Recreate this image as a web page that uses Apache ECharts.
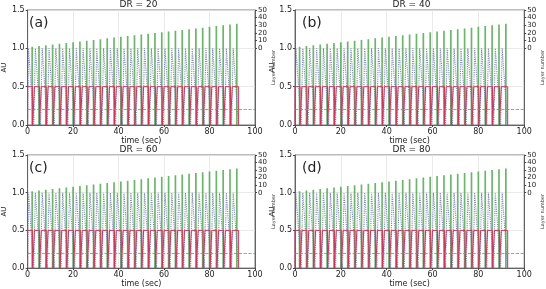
<!DOCTYPE html>
<html>
  <head>
    <meta charset="utf-8" />
    <title>DR pulses</title>
    <script src="https://cdn.jsdelivr.net/npm/echarts@6.0.0/dist/echarts.min.js"></script>
    <style>
      body { margin: 0; background: #fff; }
    </style>
  </head>
  <body>
    <div id="main" style="width: 546px;height:289px;"></div>
    <script type="text/javascript">
    // panel titles / labels
    var drValues = [20, 40, 60, 80];
    var panelLabels = ['(a)', '(b)', '(c)', '(d)'];

    // red pulse (AU 0 -> 0.5)
    var pulseOn = [0, 3, 6, 9, 12, 15, 18, 21, 24, 27, 30, 33, 36, 39, 42, 45, 48, 51, 54, 57, 60, 63, 66, 69, 72, 75, 78, 81, 84, 87, 90];
    var pulseOff = [2.2, 5.2, 8.2, 11.2, 14.2, 17.2, 20.2, 23.2, 26.2, 29.2, 32.2, 35.2, 38.2, 41.2, 44.2, 47.2, 50.2, 53.2, 56.2, 59.2, 62.2, 65.2, 68.2, 71.2, 74.2, 77.2, 80.2, 83.2, 86.2, 89.2, 92.8];
    var pulseHigh = 0.5;

    // blue dotted signal (AU 0 -> 1)
    var blueTopStart = [0.4, 3.4, 6.4, 9.4, 12.4, 15.4, 18.4, 21.4, 24.4, 27.4, 30.4, 33.4, 36.4, 39.4, 42.4, 45.4, 48.4, 51.4, 54.4, 57.4, 60.4, 63.4, 66.4, 69.4, 72.4, 75.4, 78.4, 81.4, 84.4, 87.4, 90.4];
    var blueTopEnd = [1.0, 4.0, 7.0, 10.0, 13.0, 16.0, 19.0, 22.0, 25.0, 28.0, 31.0, 34.0, 37.0, 40.0, 43.0, 46.0, 49.0, 52.0, 55.0, 58.0, 61.0, 64.0, 67.0, 70.0, 73.0, 76.0, 79.0, 82.0, 85.0, 88.0, 91.0];
    var blueBottom = [2.7, 5.7, 8.7, 11.7, 14.7, 17.7, 20.7, 23.7, 26.7, 29.7, 32.7, 35.7, 38.7, 41.7, 44.7, 47.7, 50.7, 53.7, 56.7, 59.7, 62.7, 65.7, 68.7, 71.7, 74.7, 77.7, 80.7, 83.7, 86.7, 89.7, 92.7];
    var blueHigh = 1.0;

    // green layer spikes (right axis)
    var layerTime = [2, 5, 8, 11, 14, 17, 20, 23, 26, 29, 32, 35, 38, 41, 44, 47, 50, 53, 56, 59, 62, 65, 68, 71, 74, 77, 80, 83, 86, 89, 92];
    var layerNumber = [2, 3, 4, 5, 6, 7, 8, 9, 10, 11, 12, 13, 14, 15, 16, 17, 18, 19, 20, 21, 22, 23, 24, 25, 26, 27, 28, 29, 30, 31, 32];
    var layerFloor = -100;

    var thresholdAU = 0.2;
    var layerTicks = [0, 10, 20, 30, 40, 50];

    var font = 'DejaVu Sans';
    var grids = [
      { left: 22, right: 291, top: 10, bottom: 164 },
      { left: 295, right: 18, top: 10, bottom: 164 },
      { left: 22, right: 291, top: 155, bottom: 19 },
      { left: 295, right: 18, top: 155, bottom: 19 }
    ];

    function redData() {
      var d = [];
      for (var i = 0; i < pulseOn.length; i++) {
        d.push([pulseOn[i], 0], [pulseOn[i], pulseHigh], [pulseOff[i], pulseHigh], [pulseOff[i], 0]);
      }
      return d;
    }
    function blueData() {
      var d = [];
      for (var i = 0; i < pulseOn.length; i++) {
        d.push([pulseOn[i], 0], [blueTopStart[i], blueHigh], [blueTopEnd[i], blueHigh], [blueBottom[i], 0]);
      }
      return d;
    }
    function greenData() {
      var d = [];
      for (var i = 0; i < layerTime.length; i++) {
        d.push([layerTime[i], layerFloor], [layerTime[i], layerNumber[i]], [layerTime[i], '-']);
      }
      return d;
    }

    var chart = echarts.init(document.getElementById('main'));
    var option = { animation: false, grid: [], xAxis: [], yAxis: [], series: [], title: [] };

    for (var p = 0; p < 4; p++) {
      var g = grids[p];
      option.grid.push({ left: g.left, right: g.right, top: g.top, bottom: g.bottom,
        show: true, borderColor: '#555', borderWidth: 0.8 });
      var cx = g.left + (546 - g.left - g.right) / 2;
      option.title.push({ text: 'DR = ' + drValues[p], left: cx, top: g.top - 10, textAlign: 'center', padding: 0,
        textStyle: { fontFamily: font, fontSize: 9, fontWeight: 'normal', color: '#222' } });
      option.title.push({ text: panelLabels[p], left: g.left + 7, top: g.top + 6, padding: 0,
        textStyle: { fontFamily: font, fontSize: 14, fontWeight: 'normal', color: '#222' } });

      option.xAxis.push({ type: 'value', gridIndex: p, min: 0, max: 100, interval: 20,
        name: 'time (sec)', nameLocation: 'middle', nameGap: 10,
        nameTextStyle: { fontFamily: font, fontSize: 8, color: '#222' },
        axisLine: { lineStyle: { color: '#444', width: 0.8 } },
        axisTick: { length: 2, lineStyle: { color: '#444' } },
        axisLabel: { fontFamily: font, fontSize: 8, color: '#222', margin: 3 },
        splitLine: { lineStyle: { color: '#e4e4e4', width: 0.8 } } });

      option.yAxis.push({ type: 'value', gridIndex: p, min: 0, max: 1.5, interval: 0.5,
        name: 'AU', nameLocation: 'middle', nameGap: 14,
        nameTextStyle: { fontFamily: font, fontSize: 7, color: '#222' },
        axisLine: { show: true, lineStyle: { color: '#444', width: 0.8 } },
        axisTick: { show: true, length: 2, lineStyle: { color: '#444' } },
        axisLabel: { fontFamily: font, fontSize: 8, color: '#222', margin: 3,
          formatter: function (v) { return v.toFixed(1); } },
        splitLine: { lineStyle: { color: '#e4e4e4', width: 0.8 } } });

      option.yAxis.push({ type: 'value', gridIndex: p, position: 'right', min: layerFloor, max: 50,
        name: 'Layer number', nameLocation: 'middle', nameGap: 13,
        nameTextStyle: { fontFamily: font, fontSize: 5, color: '#333' },
        axisLine: { show: true, lineStyle: { color: '#444', width: 0.8 } },
        axisTick: { show: true, length: 2, customValues: layerTicks, lineStyle: { color: '#444' } },
        axisLabel: { fontFamily: font, fontSize: 7, color: '#222', margin: 3, customValues: layerTicks,
          showMinLabel: true, showMaxLabel: true, hideOverlap: false },
        splitLine: { show: false } });

      option.series.push({ type: 'line', xAxisIndex: p, yAxisIndex: 2 * p + 1, data: greenData(),
        symbol: 'none', connectNulls: false, z: 2,
        lineStyle: { color: '#3c9c3c', width: 1.7, opacity: 0.75 } });
      option.series.push({ type: 'line', xAxisIndex: p, yAxisIndex: 2 * p, data: blueData(),
        symbol: 'none', z: 3,
        lineStyle: { color: '#6a70b0', width: 1.1, type: 'dotted', opacity: 0.85 } });
      option.series.push({ type: 'line', xAxisIndex: p, yAxisIndex: 2 * p, data: redData(),
        symbol: 'none', z: 4,
        lineStyle: { color: '#c8385a', width: 1 },
        markLine: { silent: true, symbol: 'none', label: { show: false },
          lineStyle: { color: '#888', type: 'dashed', width: 0.8 },
          data: [{ yAxis: thresholdAU }] } });
    }

    chart.setOption(option);
    </script>
  </body>
</html>
